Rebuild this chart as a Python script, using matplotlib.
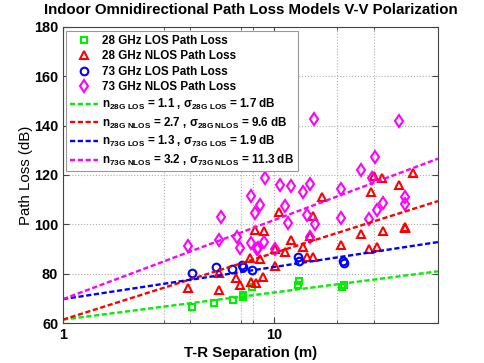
import numpy as np
import matplotlib
matplotlib.use("Agg")
import matplotlib.pyplot as plt
from matplotlib.ticker import FixedLocator, NullFormatter

plt.rcParams['font.family'] = ['Liberation Sans', 'DejaVu Sans']
plt.rcParams['mathtext.fontset'] = 'custom'
plt.rcParams['mathtext.rm'] = 'Liberation Sans:bold'
plt.rcParams['mathtext.it'] = 'Liberation Sans:bold'
plt.rcParams['mathtext.bf'] = 'Liberation Sans:bold'
plt.rcParams['mathtext.default'] = 'bf'

# measured points (T-R distance in m, path loss in dB)
los28_d = [4.1, 5.2, 6.4, 7.1, 7.1, 7.9, 13.0, 13.1, 21.0, 21.5]
los28_pl = [66.5, 68.0, 69.3, 70.4, 71.4, 74.7, 75.5, 77.0, 74.5, 75.5]

nlos28_d = [3.9, 5.5, 5.5, 6.6, 6.9, 7.8, 8.25, 8.9, 8.15, 9.0, 7.7, 8.6, 10.1, 10.6,
            16.9, 15.4, 14.8, 12.0, 13.8, 11.3, 10.1, 20.7, 26.0, 29.0, 30.0, 32.7,
            39.0, 45.7, 32.9, 41.8, 41.8, 28.3, 31.0, 14.4, 15.4]
nlos28_pl = [74.1, 73.3, 80.2, 78.1, 75.4, 76.8, 76.1, 78.8, 97.7, 97.3, 86.5, 86.0, 83.2, 105.0,
             111.2, 103.4, 95.4, 93.7, 91.0, 88.7, 89.9, 91.6, 96.1, 113.3, 119.6, 118.7,
             116.0, 120.7, 97.1, 98.4, 99.0, 89.9, 90.7, 86.9, 86.9]

los73_d = [4.1, 5.3, 6.35, 7.06, 7.14, 7.9, 13.0, 13.2, 21.2, 21.6]
los73_pl = [80.2, 82.6, 81.8, 83.5, 82.6, 81.5, 86.9, 85.0, 85.3, 84.4]

nlos73_d = [3.9, 5.6, 5.5, 6.7, 6.9, 7.8, 8.6, 8.1, 7.8, 8.4, 8.95, 10.1, 10.7, 9.1,
            11.3, 11.7, 15.5, 39.4, 30.2, 25.9, 29.1, 20.7, 14.8, 13.8, 12.1, 14.3,
            15.6, 14.9, 20.7, 28.3, 31.0, 32.9, 41.7, 41.7, 8.3]
nlos73_pl = [91.4, 102.9, 93.5, 94.8, 90.3, 111.6, 107.8, 104.7, 92.3, 90.3, 93.0, 89.9, 115.8, 118.7,
             107.5, 100.4, 142.7, 141.9, 127.4, 122.0, 118.7, 114.3, 116.4, 113.0, 115.7, 103.8,
             100.0, 94.8, 102.5, 102.1, 105.8, 108.5, 111.2, 108.1, 89.9]

# close-in free space reference model: PL(d) = FSPL(1 m) + 10 n log10(d)
fspl28 = 61.4
fspl73 = 69.7
n_vals = [1.1, 2.7, 1.3, 3.2]
sigma_vals = [1.7, 9.6, 1.9, 11.3]
model_names = ['28G\\ LOS', '28G\\ NLOS', '73G\\ LOS', '73G\\ NLOS']
model_ref = [fspl28, fspl28, fspl73, fspl73]
model_colors = ['#00f000', '#ff0000', '#0000ff', '#ff00ff']
d_line = np.array([1, 60])

fig = plt.figure(figsize=(4.85, 3.63), dpi=100)
ax = fig.add_axes([0.13, 0.11, 0.773, 0.816])

mk = dict(linestyle='none', markerfacecolor='none', markeredgewidth=1.5)
h1, = ax.plot(los28_d, los28_pl, 's', color='#00f000', markersize=5, label='28 GHz LOS Path Loss', **mk)
h2, = ax.plot(nlos28_d, nlos28_pl, '^', color='#ff0000', markersize=6, label='28 GHz NLOS Path Loss', **mk)
h3, = ax.plot(los73_d, los73_pl, 'o', color='#0000ff', markersize=5.5, label='73 GHz LOS Path Loss', **mk)
h4, = ax.plot(nlos73_d, nlos73_pl, 'd', color='#ff00ff', markersize=6.5, label='73 GHz NLOS Path Loss', **mk)

handles = [h1, h2, h3, h4]
for n, s, name, ref, c in zip(n_vals, sigma_vals, model_names, model_ref, model_colors):
    lbl = r'$n_{%s}$ = %.1f , $\sigma_{%s}$ = %.1f dB' % (name, n, name, s)
    h, = ax.plot(d_line, ref + 10 * n * np.log10(d_line), color=c, linewidth=1.7,
                 linestyle=(0, (2.2, 1.1)), label=lbl)
    handles.append(h)

ax.set_xscale('log')
ax.set_xlim(1, 60)
ax.set_ylim(60, 180)
ax.set_yticks(np.arange(60, 181, 20))
ax.xaxis.set_major_locator(FixedLocator([1, 10]))
ax.xaxis.set_minor_locator(FixedLocator([3, 4, 7, 8, 20, 30]))
ax.xaxis.set_minor_formatter(NullFormatter())
ax.set_xticklabels(['1', '10'])
ax.grid(True, which='both', linestyle=':', color='#b0b0b0', linewidth=0.8)
ax.tick_params(which='both', direction='in', top=True, right=True, colors='#444444',
               labelcolor='black', labelsize=10.4)
ax.tick_params(which='major', length=4)
ax.tick_params(which='minor', length=2.5)
for lab in ax.get_xticklabels() + ax.get_yticklabels():
    lab.set_fontweight('bold')
for sp in ax.spines.values():
    sp.set_color('#444444')

ax.set_title('Indoor Omnidirectional Path Loss Models V-V Polarization',
             fontsize=10.8, fontweight='bold', pad=9)
ax.set_xlabel('T-R Separation (m)', fontsize=10.8, fontweight='bold', labelpad=3)
ax.set_ylabel('Path Loss (dB)', fontsize=10.8, labelpad=1)

leg = ax.legend(handles=handles, loc='upper left', bbox_to_anchor=(0.008, 0.985),
                prop={'size': 8.4, 'weight': 'bold'}, frameon=True, fancybox=False,
                framealpha=1, edgecolor='#999999', handlelength=2.4, handletextpad=0.4,
                borderpad=0.3, labelspacing=0.3, borderaxespad=0)
leg.get_frame().set_linewidth(0.8)

fig.savefig('out.png', dpi=100)
